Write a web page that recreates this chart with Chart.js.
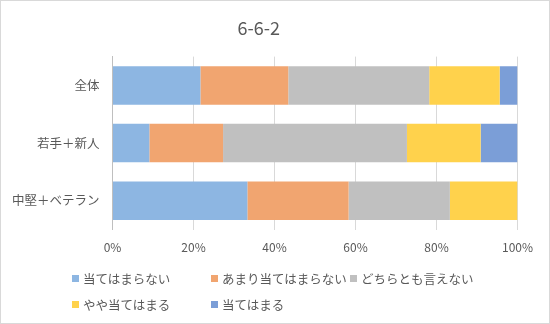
<!DOCTYPE html>
<html>
<head>
<meta charset="utf-8">
<script src="https://cdn.jsdelivr.net/npm/chart.js@4"></script>
<style>
    html, body { margin: 0; padding: 0; background: #fff; }
    #holder { position: relative; width: 550px; height: 324px; }
    #frame { position: absolute; left: 0; top: 0; width: 548px; height: 322px; border: 1px solid #d9d9d9; pointer-events: none; }
    #legend { position: absolute; left: 72px; top: 269px; display: grid; grid-template-columns: 139px 139px 160px; row-gap: 8px;
        font-family: "Noto Sans CJK JP", sans-serif; font-size: 12.5px; color: #595959; }
    .item { display: flex; align-items: center; height: 18px; white-space: nowrap; }
    .box { width: 7px; height: 7px; margin-right: 4px; }
</style>
</head>
<body>
<div id="holder">
    <canvas id="myChart" width="550" height="324"></canvas>
    <div id="legend"></div>
    <div id="frame"></div>
</div>
<script>
// 回答の内訳（%）
const groups = ['全体', '若手＋新人', '中堅＋ベテラン'];
const answers = ['当てはまらない', 'あまり当てはまらない', 'どちらとも言えない', 'やや当てはまる', '当てはまる'];
const notApply = [21.7, 9.1, 33.3];
const ratherNot = [21.7, 18.2, 25.0];
const neutral = [34.8, 45.4, 25.0];
const somewhat = [17.4, 18.2, 16.7];
const apply = [4.4, 9.1, 0];
const xTicks = [0, 20, 40, 60, 80, 100];

const colors = ['rgb(141,182,226)', 'rgb(241,165,112)', 'rgb(192,192,192)', 'rgb(255,210,76)', 'rgb(123,158,215)'];
const values = [notApply, ratherNot, neutral, somewhat, apply];

const font = "'Noto Sans CJK JP', sans-serif";
const ctx = document.getElementById('myChart').getContext('2d');

const myChart = new Chart(ctx, {
    type: 'bar',
    data: {
        labels: groups,
        datasets: answers.map((name, i) => ({
            label: name,
            data: values[i],
            backgroundColor: colors[i],
            borderWidth: 0,
            categoryPercentage: 1,
            barPercentage: 0.667
        }))
    },
    options: {
        indexAxis: 'y',
        responsive: false,
        animation: false,
        layout: { padding: { left: 0, right: 32.5, top: 0, bottom: 64.5 } },
        plugins: {
            legend: { display: false },
            tooltip: { enabled: false },
            title: {
                display: true,
                text: '6-6-2',
                color: '#595959',
                font: { family: font, size: 18, weight: 'normal' },
                padding: { top: 17, bottom: 18 }
            }
        },
        scales: {
            x: {
                stacked: true,
                min: 0,
                max: 100,
                afterBuildTicks: scale => { scale.ticks = xTicks.map(v => ({ value: v })); },
                afterFit: scale => { scale.height = 30; },
                ticks: {
                    callback: v => v + '%',
                    color: '#595959',
                    padding: 11,
                    font: { family: font, size: 12 }
                },
                grid: { color: '#d9d9d9', drawTicks: false },
                border: { display: false }
            },
            y: {
                stacked: true,
                afterFit: scale => { scale.width = 112.5; },
                ticks: {
                    color: '#595959',
                    padding: 13,
                    font: { family: font, size: 12.5 }
                },
                grid: { display: false, drawTicks: false },
                border: { color: '#bfbfbf' }
            }
        }
    }
});

// 凡例は2段の格子で並べる
const legend = document.getElementById('legend');
myChart.data.datasets.forEach(ds => {
    const item = document.createElement('div');
    item.className = 'item';
    const box = document.createElement('span');
    box.className = 'box';
    box.style.background = ds.backgroundColor;
    item.append(box);
    item.append(document.createTextNode(ds.label));
    legend.append(item);
});
</script>
</body>
</html>
